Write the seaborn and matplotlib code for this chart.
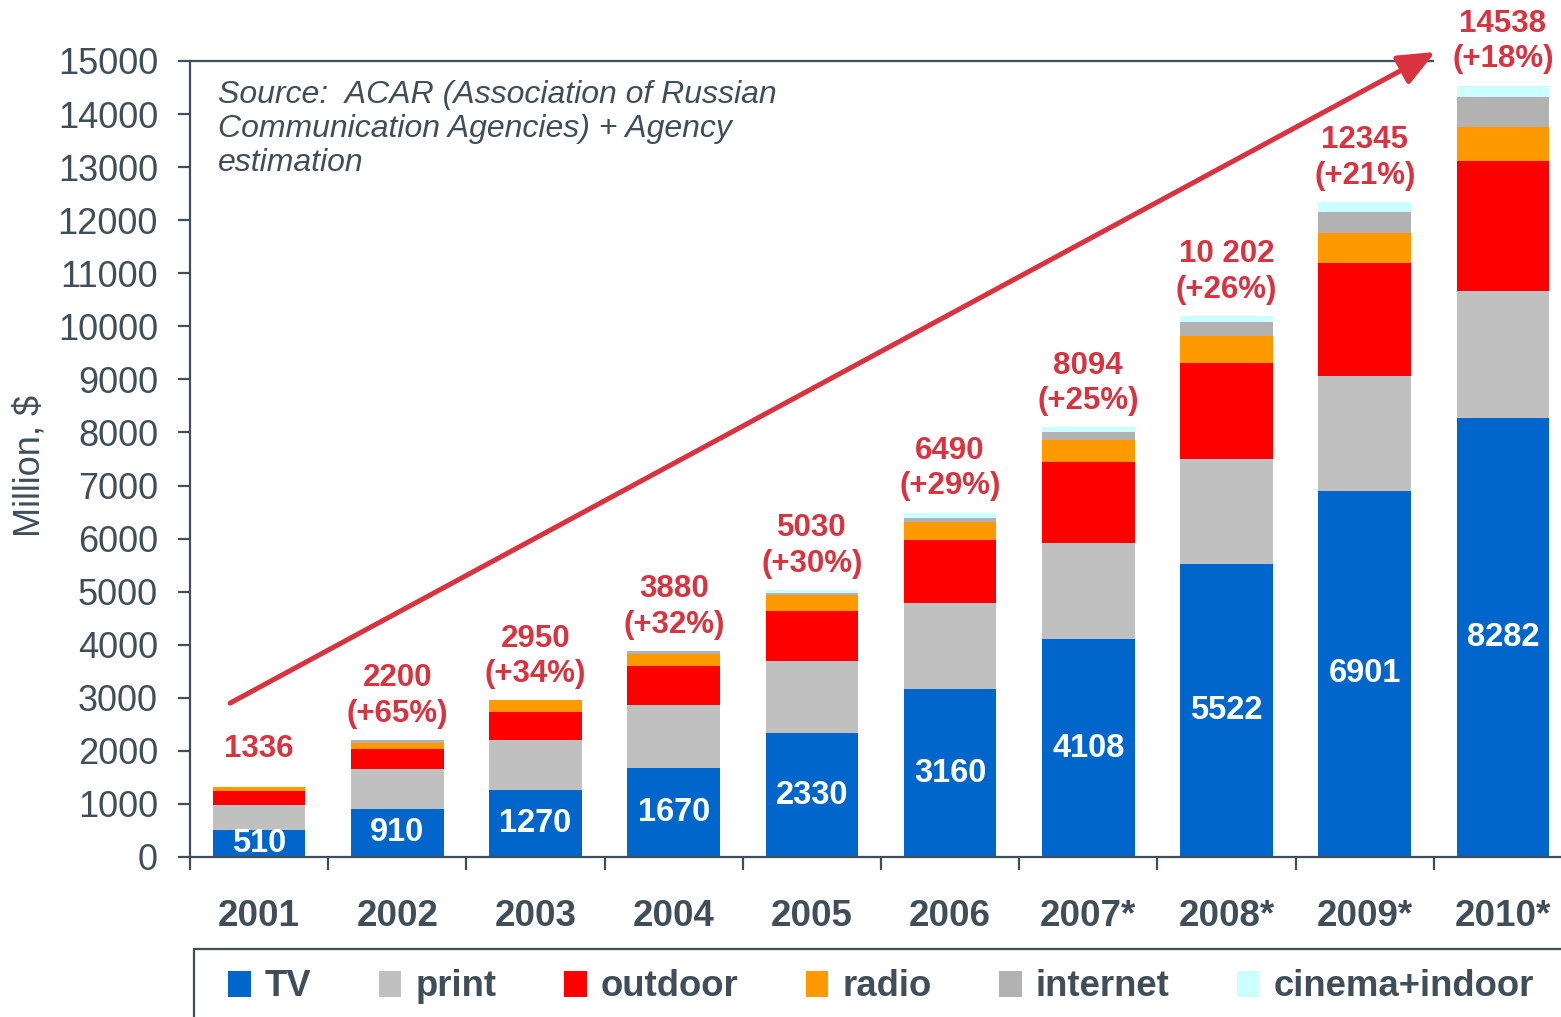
import matplotlib
matplotlib.use("Agg")
import matplotlib.pyplot as plt
from matplotlib.patches import Rectangle, Patch
import numpy as np
import pandas as pd
import seaborn as sns

# data (million $)
years = ['2001', '2002', '2003', '2004', '2005', '2006', '2007*', '2008*', '2009*', '2010*']
tv = [510, 910, 1270, 1670, 2330, 3160, 4108, 5522, 6901, 8282]
print_ = [470, 750, 940, 1200, 1360, 1620, 1810, 1980, 2160, 2390]
outdoor = [260, 370, 530, 720, 940, 1200, 1530, 1810, 2130, 2450]
radio = [70, 110, 210, 230, 300, 340, 415, 510, 570, 640]
internet = [0, 60, 0, 60, 40, 75, 150, 260, 390, 560]
cinema = [26, 0, 0, 0, 60, 95, 81, 120, 194, 216]
total_labels = ['1336', '2200', '2950', '3880', '5030', '6490', '8094', '10 202', '12345', '14538']
growth_labels = ['', '(+65%)', '(+34%)', '(+32%)', '(+30%)', '(+29%)', '(+25%)', '(+26%)', '(+21%)', '(+18%)']

series = ['TV', 'print', 'outdoor', 'radio', 'internet', 'cinema+indoor']
colors = ['#0066CC', '#C0C0C0', '#FF0000', '#FF9900', '#B2B2B2', '#CCFFFF']

DARK = '#3F4E58'
RED = '#D9333F'

df = pd.DataFrame({'year': years, 'TV': tv, 'print': print_, 'outdoor': outdoor,
                   'radio': radio, 'internet': internet, 'cinema+indoor': cinema})
cum = df[series].cumsum(axis=1)

sns.set_theme(style='white')
plt.rcParams['font.family'] = ['Liberation Sans', 'DejaVu Sans']

fig = plt.figure(figsize=(15.61, 10.17), dpi=100)
ax = fig.add_axes([190 / 1561, 1 - 857 / 1017, 1371 / 1561, 796 / 1017])

# stacked bars: draw cumulative heights from the top layer down
for name, col in zip(series[::-1], colors[::-1]):
    sns.barplot(x=df['year'], y=cum[name], color=col, saturation=1, width=0.67,
                linewidth=0, ax=ax, order=years)

tv_bars = ax.containers[-1]
ax.bar_label(tv_bars, labels=[str(v) for v in tv], label_type='center',
             color='white', fontsize=23.5, fontweight='bold')

# totals above bars
totals = cum['cinema+indoor'].values
for i, (t, g) in enumerate(zip(total_labels, growth_labels)):
    txt = t if not g else t + '\n' + g
    off = 16 if not g else 8
    ax.annotate(txt, (i, totals[i]), xytext=(0, off), textcoords='offset points',
                ha='center', va='bottom', color=RED, fontsize=22.5, fontweight='bold',
                linespacing=1.25, annotation_clip=False)

# trend arrow
arrow_start = (-0.21, 2900)
arrow_end = (8.51, 15170)
ax.annotate('', xy=arrow_end, xytext=arrow_start, annotation_clip=False,
            arrowprops=dict(arrowstyle='-|>,head_length=0.7,head_width=0.3', color=RED,
                            lw=3.6, mutation_scale=32, shrinkA=0, shrinkB=0))

ax.set_yticks(np.arange(0, 15001, 1000))
ax.set_xlabel('')
ax.set_ylabel('')
ax.set_xticks(range(len(years)))
ax.set_xticklabels(years)
ax.set_xticks(np.arange(-0.5, len(years) - 0.5, 1), minor=True)
ax.set_ylim(0, 15000)
ax.set_xlim(-0.5, -0.5 + 1371 / 138.2)

for s in ['right', 'top']:
    ax.spines[s].set_visible(False)
for s in ['left', 'bottom']:
    ax.spines[s].set_color(DARK)
    ax.spines[s].set_linewidth(1.6)
ax.hlines(15000, -0.5, 8.5, color=DARK, lw=1.6, clip_on=False)

ax.tick_params(axis='y', which='major', direction='out', length=9, width=1.6,
               color=DARK, labelcolor=DARK, labelsize=26, pad=14, left=True)
ax.tick_params(axis='x', which='major', length=0, pad=30, labelcolor=DARK, labelsize=26.5)
ax.tick_params(axis='x', which='minor', direction='out', length=9, width=1.6,
               color=DARK, bottom=True)
for lab in ax.get_xticklabels():
    lab.set_fontweight('bold')

ax.text(-0.1167, 0.491, 'Million, $', transform=ax.transAxes, rotation=90,
        ha='center', va='center', fontsize=26, color=DARK)

ax.text(0.0204, 0.976, 'Source:  ACAR (Association of Russian\nCommunication Agencies) + Agency\nestimation',
        transform=ax.transAxes, ha='left', va='top', fontsize=23, style='italic',
        color=DARK, linespacing=1.18)

# legend box at the bottom
fig.patches.append(Rectangle((194 / 1561, -0.05), 1.0, 0.05 + 1 - 949 / 1017,
                             transform=fig.transFigure, fill=False, edgecolor=DARK,
                             lw=1.6))
handles = [Patch(facecolor=c, edgecolor='none', label=n) for n, c in zip(series, colors)]
leg = fig.legend(handles=handles, loc='center left', ncol=6, frameon=False,
                 bbox_to_anchor=(228 / 1561, 1 - 987 / 1017), fontsize=26.3,
                 handlelength=0.62, handleheight=0.7, handletextpad=0.38,
                 columnspacing=1.85, borderpad=0, borderaxespad=0)
for t in leg.get_texts():
    t.set_color(DARK)
    t.set_fontweight('bold')

fig.savefig('out.png', dpi=100)
